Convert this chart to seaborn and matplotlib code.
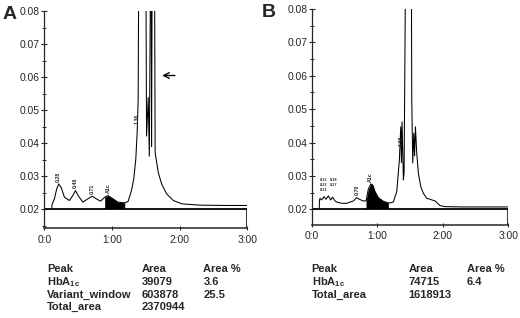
import numpy as np
import pandas as pd
import seaborn as sns
import matplotlib.pyplot as plt
from matplotlib.ticker import MultipleLocator, FixedLocator

# ---- dados lidos do cromatograma ----
# painel A (tempo em minutos, absorbancia)
time_a = [0.110, 0.115, 0.149, 0.183, 0.213, 0.248, 0.297, 0.371, 0.421, 0.461,
          0.500, 0.569, 0.643, 0.708, 0.768, 0.832, 0.892, 0.941, 1.016, 1.089,
          1.189, 1.238, 1.288, 1.322, 1.352, 1.372, 1.387, 1.397, 1.500, 1.511,
          1.536, 1.552, 1.572, 1.580, 1.585, 1.595, 1.628, 1.638, 1.684, 1.734,
          1.808, 1.906, 2.030, 2.300, 2.700, 3.000]
abs_a = [0.0205, 0.0215, 0.0232, 0.0262, 0.0277, 0.0267, 0.0237, 0.0227, 0.0242, 0.0257,
         0.0242, 0.0222, 0.0232, 0.0240, 0.0232, 0.0225, 0.0237, 0.0242, 0.0232, 0.0222,
         0.0220, 0.0224, 0.0257, 0.0292, 0.0352, 0.0432, 0.0532, 0.1000, 0.1000, 0.0422,
         0.0538, 0.0361, 0.1000, 0.1000, 0.0390, 0.1000, 0.1000, 0.0372, 0.0312, 0.0277,
         0.0247, 0.0227, 0.0217, 0.0213, 0.0212, 0.0212]

# painel B
time_b = [0.116, 0.118, 0.127, 0.153, 0.188, 0.218, 0.254, 0.290, 0.320, 0.356,
          0.391, 0.458, 0.534, 0.636, 0.687, 0.727, 0.788, 0.829, 0.864, 0.901,
          0.931, 0.966, 1.017, 1.094, 1.170, 1.221, 1.246, 1.298, 1.338, 1.359,
          1.369, 1.379, 1.399, 1.410, 1.435, 1.520, 1.527, 1.542, 1.558, 1.570,
          1.583, 1.603, 1.628, 1.664, 1.704, 1.755, 1.806, 1.882, 1.959, 2.035,
          2.300, 2.700, 3.000]
abs_b = [0.0205, 0.0225, 0.0233, 0.0228, 0.0238, 0.0230, 0.0240, 0.0228, 0.0236, 0.0225,
         0.0221, 0.0218, 0.0218, 0.0225, 0.0235, 0.0230, 0.0225, 0.0225, 0.0260, 0.0276,
         0.0273, 0.0253, 0.0235, 0.0224, 0.0219, 0.0220, 0.0222, 0.0253, 0.0348, 0.0447,
         0.0340, 0.0462, 0.0288, 0.0310, 0.1000, 0.1000, 0.0527, 0.0339, 0.0428, 0.0360,
         0.0447, 0.0368, 0.0308, 0.0268, 0.0248, 0.0233, 0.0230, 0.0225, 0.0211, 0.0208,
         0.0207, 0.0207, 0.0207]

# janela HbA1c (pico preenchido)
hba1c_window_a = (0.84, 1.22)
hba1c_window_b = (0.80, 1.22)

# rotulos dos picos
peak_times_a = [0.213, 0.461, 0.708, 0.941, 1.375]
peak_names_a = ['0.28', '0.46', '0.71', 'A1c', '1.36']
peak_times_b = [0.690, 0.901, 1.365]
peak_names_b = ['0.70', 'A1c', '1.38']
# grupo de picos pequenos no inicio do painel B (rotulos empilhados)
cluster_times_b = [0.18, 0.33, 0.18, 0.33, 0.18]
cluster_names_b = ['0.13', '0.18', '0.22', '0.27', '0.31']

xtick_vals = [0, 1, 2, 3]
xtick_labels = ['0:0', '1:00', '2:00', '3:00']

# tabelas de areas
table_a = [['Peak', 'Area', 'Area %'],
           ['HbA$_{\\mathbf{1c}}$', '39079', '3.6'],
           ['Variant_window', '603878', '25.5'],
           ['Total_area', '2370944', '']]
table_b = [['Peak', 'Area', 'Area %'],
           ['HbA$_{\\mathbf{1c}}$', '74715', '6.4'],
           ['Total_area', '1618913', '']]

sns.set_style('ticks')
plt.rcParams['font.family'] = ['Liberation Sans', 'DejaVu Sans']
plt.rcParams['mathtext.fontset'] = 'custom'
plt.rcParams['mathtext.rm'] = 'Liberation Sans'
plt.rcParams['mathtext.bf'] = 'Liberation Sans:bold'


def draw_panel(ax, t, a, window, box_top, ymin, ptimes, pnames):
    df = pd.DataFrame({'t': t, 'a': a})
    sns.lineplot(data=df, x='t', y='a', ax=ax, color='black', lw=0.75,
                 sort=False, estimator=None)
    sel = df[(df['t'] >= window[0]) & (df['t'] <= window[1])]
    ax.fill_between(sel['t'], box_top, sel['a'], color='black', lw=0)
    # caixa inferior
    ax.axhline(box_top, color='black', lw=1.3)
    ax.vlines(3, ymin, box_top, color='black', lw=1.1)
    for pt, name in zip(ptimes, pnames):
        yv = np.interp(pt, t, a)
        ax.text(pt, yv + 0.0007, name, rotation=90, fontsize=3.8,
                fontweight='bold', ha='center', va='bottom')
    ax.set_xlim(0, 3)
    ax.set_ylim(ymin, 0.08)
    ax.set_xlabel('')
    ax.set_ylabel('')
    ax.yaxis.set_major_locator(FixedLocator([0.02, 0.03, 0.04, 0.05, 0.06, 0.07, 0.08]))
    ax.yaxis.set_minor_locator(MultipleLocator(0.005))
    ax.set_yticklabels(['0.02', '0.03', '0.04', '0.05', '0.06', '0.07', '0.08'])
    ax.set_xticks(xtick_vals)
    ax.set_xticklabels(xtick_labels)
    ax.tick_params(axis='y', which='major', direction='inout', length=4.5, width=0.8,
                   labelsize=7.4, pad=1)
    ax.tick_params(axis='y', which='minor', direction='inout', length=3, width=0.7)
    ax.tick_params(axis='x', which='major', direction='inout', length=3, width=0.8,
                   labelsize=7.4, pad=3)
    sns.despine(ax=ax, top=True, right=True)
    ax.spines['left'].set_linewidth(0.9)
    ax.spines['bottom'].set_linewidth(1.1)
    ax.patch.set_alpha(0)


fig = plt.figure(figsize=(5.2, 3.18), dpi=100)
axA = fig.add_axes([0.0852, 0.2821, 0.3904, 0.6833])
axB = fig.add_axes([0.5994, 0.2925, 0.3781, 0.6792])

draw_panel(axA, time_a, abs_a, hba1c_window_a, 0.0202, 0.0143, peak_times_a, peak_names_a)
draw_panel(axB, time_b, abs_b, hba1c_window_b, 0.0202, 0.0153, peak_times_b, peak_names_b)

# rotulos empilhados do grupo inicial em B
for i, (pt, name) in enumerate(zip(cluster_times_b, cluster_names_b)):
    axB.text(pt, 0.0287 - (i // 2) * 0.0014, name, fontsize=2.8,
             fontweight='bold', ha='center', va='center')

# seta do painel A
axA.annotate('', xy=(1.70, 0.0605), xytext=(1.97, 0.0605),
             arrowprops=dict(arrowstyle='->', color='black', lw=1.0))

fig.text(0.004, 0.982, 'A', fontsize=14, fontweight='bold', va='top', ha='left')
fig.text(0.503, 0.988, 'B', fontsize=14, fontweight='bold', va='top', ha='left')


def draw_table(rows, xs, y0, dy):
    for i, row in enumerate(rows):
        for x, txt in zip(xs, row):
            fig.text(x / 520, 1 - (y0 + i * dy) / 318, txt, fontsize=8,
                     fontweight='bold', ha='left', va='baseline')


draw_table(table_a, [47.3, 141.7, 203.3], 272.3, 12.6)
draw_table(table_b, [311.7, 408.3, 466.7], 272.3, 12.6)

plt.savefig('out.png', dpi=100)
plt.close()
